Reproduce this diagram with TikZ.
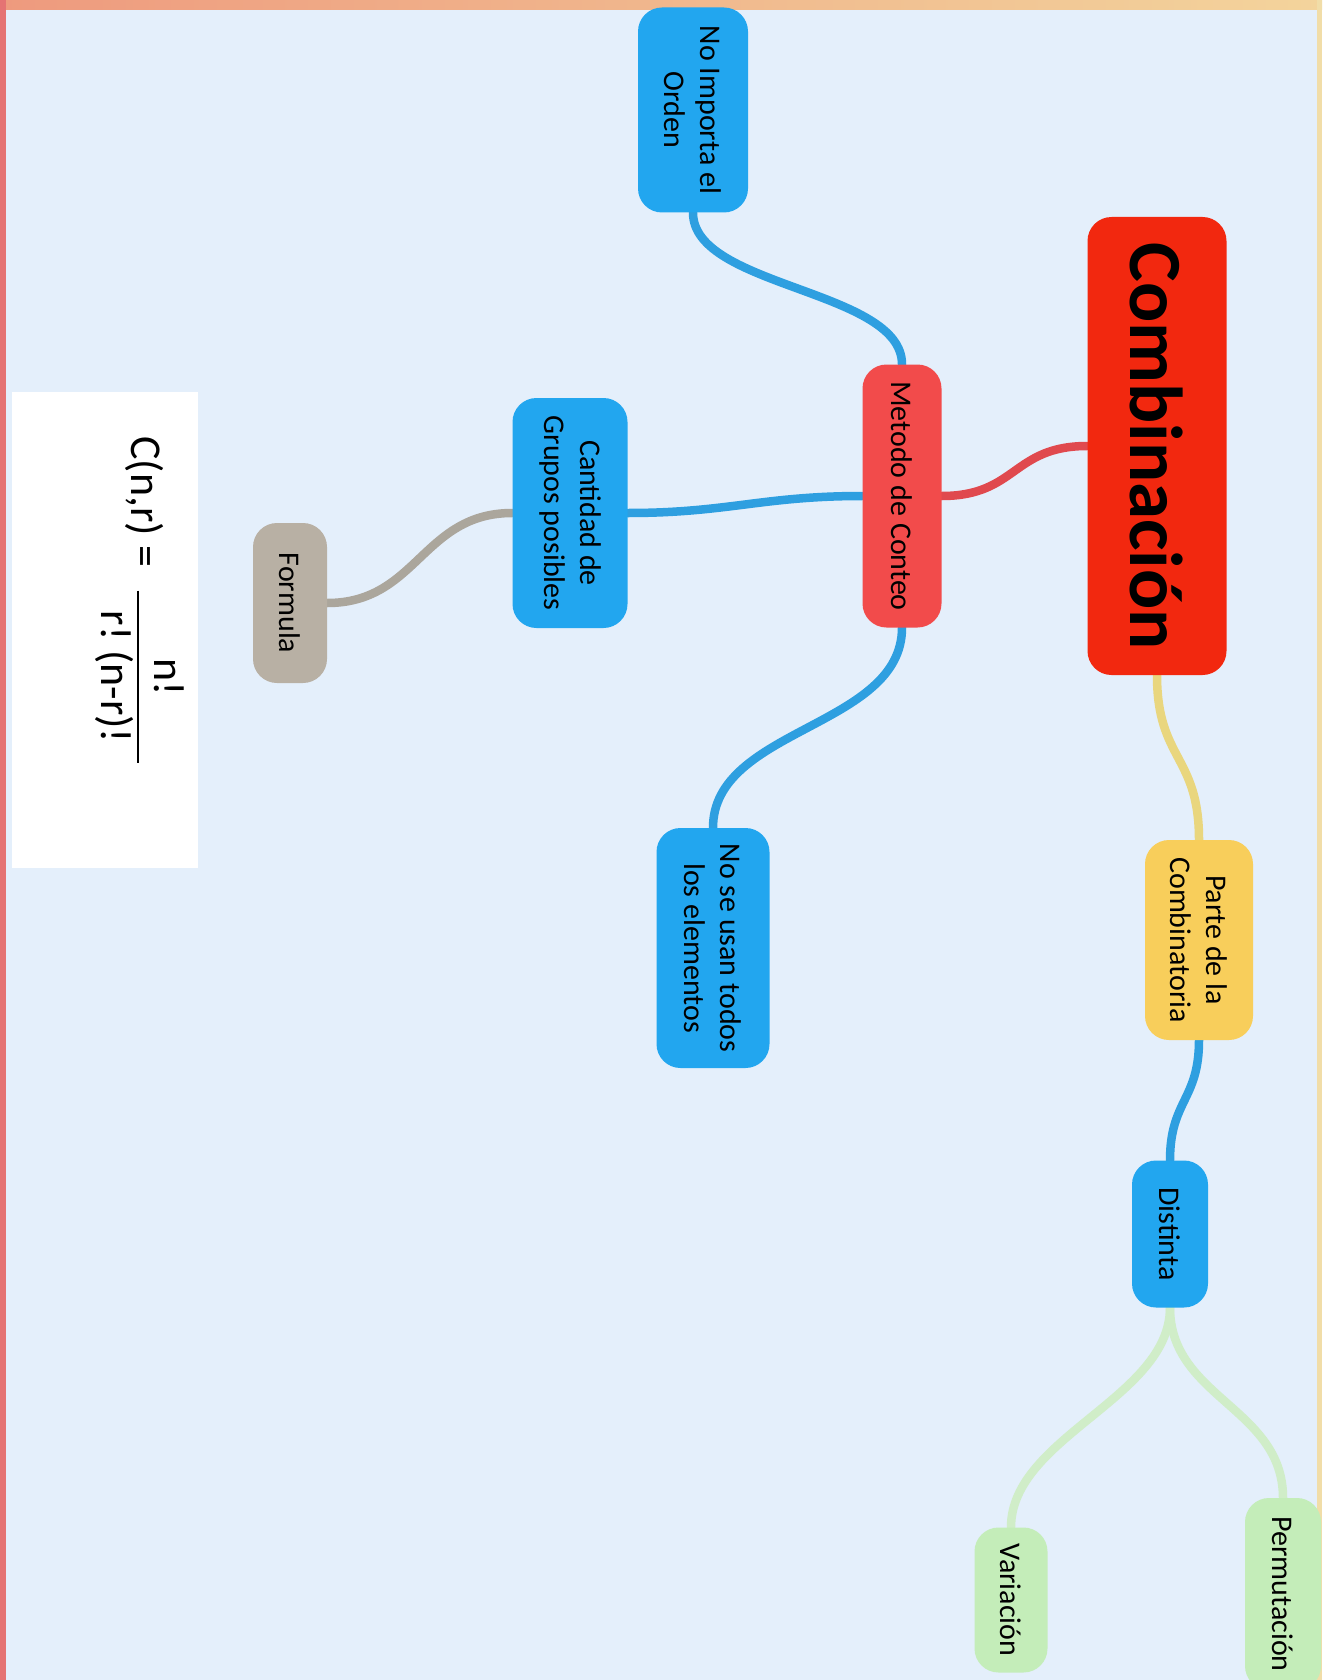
\documentclass[tikz,border=0pt]{standalone}
\usepackage{fontspec}
\setmainfont{Carlito}
\definecolor{bgblue}{HTML}{E4EFFB}
\definecolor{combred}{HTML}{F2280F}
\definecolor{metred}{HTML}{F24B4B}
\definecolor{nblue}{HTML}{22A6EF}
\definecolor{nyellow}{HTML}{F8CE5B}
\definecolor{ngray}{HTML}{B8B0A4}
\definecolor{ngreen}{HTML}{C4EDB9}
\definecolor{cred}{HTML}{E0494E}
\definecolor{cyellow}{HTML}{E9D67E}
\definecolor{cblue}{HTML}{2E9FE0}
\definecolor{cgreen}{HTML}{D0EDC8}
\definecolor{cgray}{HTML}{ABA69C}
\definecolor{topl}{HTML}{EE9A7E}
\definecolor{topr}{HTML}{F3D49C}
\definecolor{leftb}{HTML}{E57373}
\definecolor{rightb}{HTML}{F1DDA8}
\pgfdeclarelayer{back}
\pgfdeclarelayer{links}
\pgfsetlayers{back,links,main}
\tikzset{
  box/.style={rotate=-90, rounded corners=24pt, inner sep=0pt, align=center,
    font=\fontsize{30}{36}\selectfont, text=black},
  conn/.style={line width=8.5pt, line cap=round},
  formtext/.style={rotate=-90, inner sep=0pt, font=\fontsize{44}{50}\selectfont, text=black}
}
\begin{document}
\begin{tikzpicture}[x=1pt,y=-1pt]
\useasboundingbox (0,0) rectangle (1322,1680);
\begin{pgfonlayer}{back}
\fill[bgblue] (0,0) rectangle (1322,1680);
\shade[left color=topl, right color=topr] (0,0) rectangle (1322,10);
\fill[leftb] (0,0) rectangle (6,1680);
\fill[rightb] (1317,0) rectangle (1322,1680);
\fill[white] (12,392) rectangle (198,868);
\end{pgfonlayer}

\node[box, fill=combred, minimum width=458pt, minimum height=139pt,
  font=\bfseries\fontsize{75}{90}\selectfont] (comb) at (1157,446) {Combinación};
\node[box, fill=nyellow, minimum width=200pt, minimum height=108pt] (parte) at (1199,940) {Parte de la\\Combinatoria};
\node[box, fill=nblue, minimum width=147pt, minimum height=76pt] (dist) at (1170,1234) {Distinta};
\node[box, fill=ngreen, minimum width=192pt, minimum height=76pt] (perm) at (1283,1594) {Permutación};
\node[box, fill=ngreen, minimum width=145pt, minimum height=73pt] (var) at (1011,1600) {Variación};
\node[box, fill=metred, minimum width=263pt, minimum height=79pt] (met) at (902,496) {Metodo de Conteo};
\node[box, fill=nblue, minimum width=205pt, minimum height=110pt] (noimp) at (693,110) {No Importa el\\Orden};
\node[box, fill=nblue, minimum width=230pt, minimum height=115pt] (cant) at (570,513) {Cantidad de\\Grupos posibles};
\node[box, fill=nblue, minimum width=240pt, minimum height=113pt] (nose) at (713,948) {No se usan todos\\los elementos};
\node[box, fill=ngray, minimum width=160pt, minimum height=74pt] (form) at (290,603) {Formula};

\node[formtext] (fl) at (145,502) {C(n,r) =};
\node[formtext] (ff) at (138,677) {\setlength{\arrayrulewidth}{2.5pt}\begin{tabular}{@{\hspace{20pt}}c@{\hspace{20pt}}}n!\\\hline r!\ (n-r)!\end{tabular}};

\begin{pgfonlayer}{links}
\draw[conn, cred] (comb.south) .. controls +(-75,0) and +(75,0) .. (met.north);
\draw[conn, cyellow] (comb.east) .. controls +(0,85) and +(0,-85) .. (parte.west);
\draw[conn, cblue] (parte.east) .. controls +(0,60) and +(0,-60) .. (dist.west);
\draw[conn, cgreen] (dist.east) .. controls +(0,90) and +(0,-90) .. (perm.west);
\draw[conn, cgreen] (dist.east) .. controls +(0,90) and +(0,-90) .. (var.west);
\draw[conn, cblue] (met.west) .. controls +(0,-75) and +(0,75) .. (noimp.east);
\draw[conn, cblue] (met.south) .. controls +(-100,0) and +(100,0) .. (cant.north);
\draw[conn, cblue] (met.east) .. controls +(0,100) and +(0,-100) .. (nose.west);
\draw[conn, cgray] (cant.south) .. controls +(-90,0) and +(90,0) .. (form.north);
\end{pgfonlayer}
\end{tikzpicture}
\end{document}
